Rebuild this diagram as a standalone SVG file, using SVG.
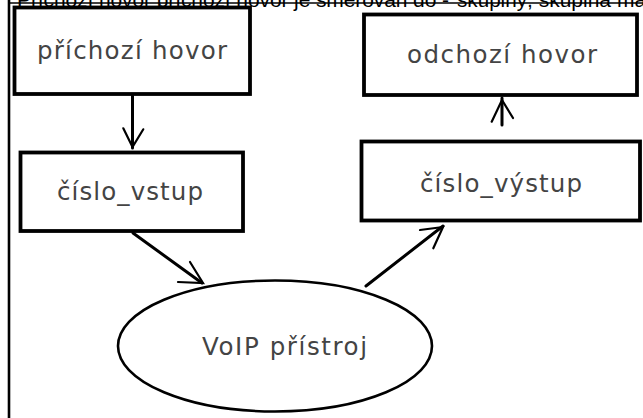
<svg xmlns="http://www.w3.org/2000/svg" width="643" height="418" viewBox="0 0 643 418">
<style>
.box{fill:#fff;stroke:#000;stroke-width:3.8}
.lbl{font-family:"DejaVu Sans",sans-serif;font-size:24.5px;fill:#444;text-anchor:middle}
.con{fill:none;stroke:#000;stroke-width:3;stroke-linecap:round}
.arm{fill:none;stroke:#000;stroke-width:2.2;stroke-linecap:round}
.top{font-family:"Liberation Sans",Arial,sans-serif;font-size:21px;fill:#000}
</style>
<rect width="643" height="418" fill="#fff"/>
<g id="header">
<text class="top" x="17" y="6.5" textLength="432" lengthAdjust="spacing">Příchozí hovor příchozí hovor je směrován do - </text>
<text class="top" x="457" y="6.5" fill="#2e8b2e" textLength="70" lengthAdjust="spacingAndGlyphs">skupiny</text>
<text class="top" x="527" y="6.5">, skupina má</text>
<line x1="10" y1="3" x2="643" y2="3" stroke="#000" stroke-width="1.4"/>
<line x1="9" y1="0" x2="9" y2="418" stroke="#000" stroke-width="2.6"/>
</g>
<g id="prichozi">
<rect class="box" x="14.5" y="7.5" width="235.5" height="86.5"/>
<text class="lbl" x="132" y="59" textLength="190" lengthAdjust="spacing">příchozí hovor</text>
</g>
<g id="cislo_vstup">
<rect class="box" x="20.5" y="152.5" width="222.5" height="78.5"/>
<text class="lbl" x="130" y="200" textLength="146" lengthAdjust="spacing">číslo_vstup</text>
</g>
<g id="odchozi">
<rect class="box" x="364" y="14.5" width="273" height="80.5"/>
<text class="lbl" x="502" y="63" textLength="190" lengthAdjust="spacing">odchozí hovor</text>
</g>
<g id="cislo_vystup">
<rect class="box" x="361.5" y="141.5" width="278.5" height="79"/>
<text class="lbl" x="501" y="192" textLength="162" lengthAdjust="spacing">číslo_výstup</text>
</g>
<g id="voip">
<ellipse cx="275" cy="346" rx="157" ry="65.5" fill="#fff" stroke="#000" stroke-width="2.6"/>
<text class="lbl" x="284.5" y="355" textLength="165" lengthAdjust="spacing">VoIP přístroj</text>
</g>
<g id="connectors">
<line class="con" x1="132.5" y1="96" x2="132.5" y2="148"/>
<polyline class="arm" points="123.3,128.3 132.5,147 143.3,129.3"/>
<line class="con" x1="502" y1="125" x2="502" y2="98"/>
<polyline class="arm" points="491.7,121.7 502,100 513,118"/>
<line class="con" x1="133" y1="233" x2="202" y2="283"/>
<polyline class="arm" points="178,282 203,283 190,262"/>
<line class="con" x1="366" y1="286" x2="443" y2="226"/>
<polyline class="arm" points="420,230 443,227 433.3,248.3"/>
</g>
</svg>
